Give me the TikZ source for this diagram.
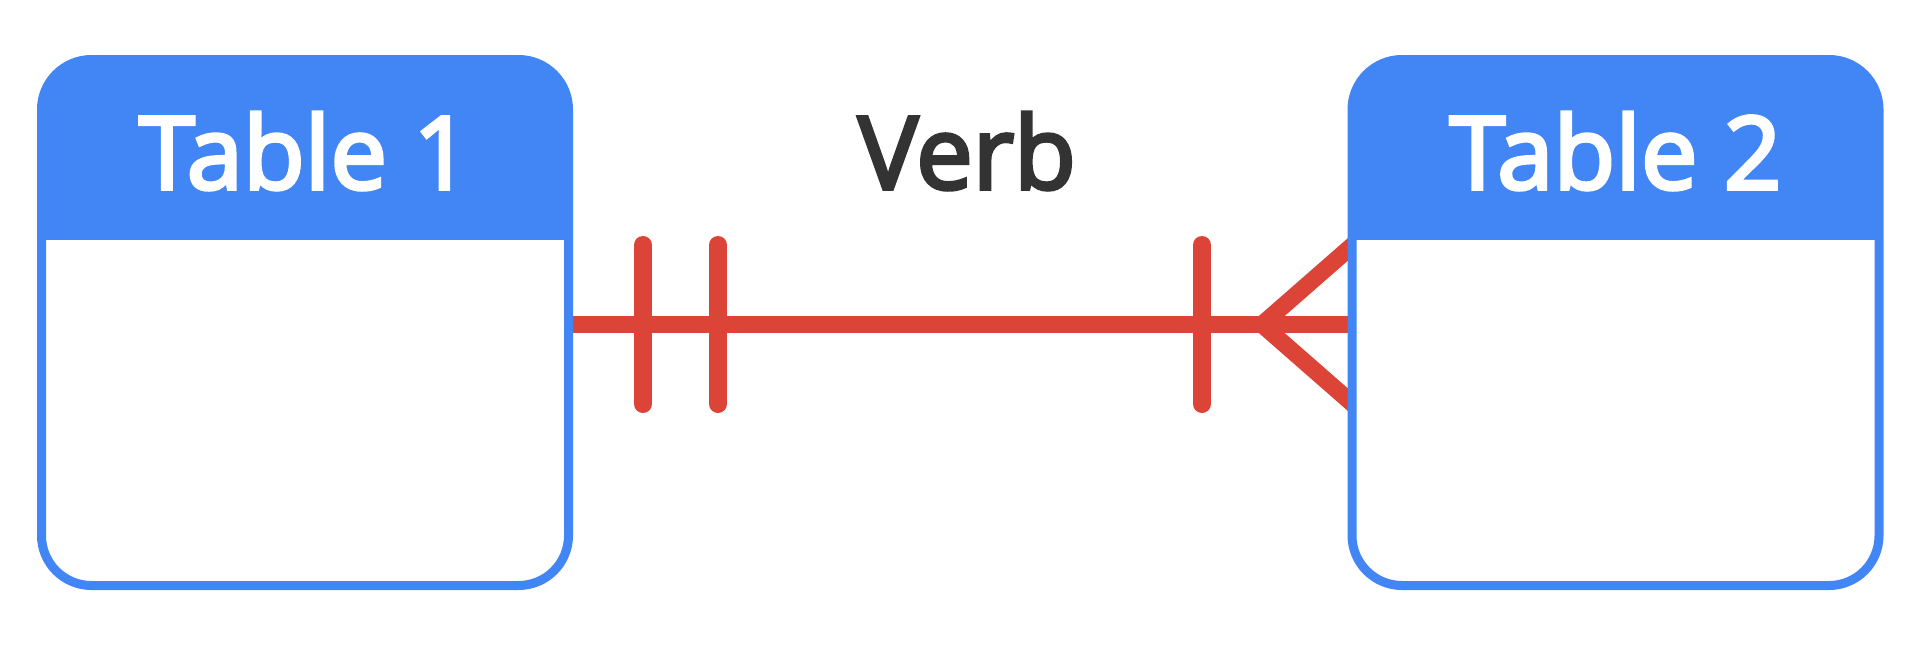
\documentclass[tikz,border=0pt]{standalone}
\usepackage{fontspec}
\setmainfont{Open Sans}[FakeBold=3.5]
\usetikzlibrary{backgrounds}
\definecolor{gblue}{HTML}{4285F4}
\definecolor{gred}{HTML}{DB4437}
\definecolor{gtext}{HTML}{333333}
\tikzset{
  tablebox/.style={draw=gblue, line width=9pt, rounded corners=50pt,
    minimum width=527pt, minimum height=526pt, inner sep=0pt,
    path picture={\fill[gblue, sharp corners] (path picture bounding box.north west) rectangle
      ([yshift=-180pt]path picture bounding box.north east);}},
  headtext/.style={anchor=base, text=white, font=\fontsize{101}{110}\selectfont, inner sep=0pt},
  verbtext/.style={anchor=base, text=gtext, font=\fontsize{101}{110}\selectfont, inner sep=0pt},
  relline/.style={draw=gred, line width=17pt},
  tickline/.style={draw=gred, line width=18pt, line cap=round},
  footline/.style={draw=gred, line width=17pt, line cap=round},
}
\begin{document}
\begin{tikzpicture}[x=1pt,y=-1pt]
\useasboundingbox (0,0) rectangle (1921,645);
\node[tablebox] (t1) at (305,322.5) {};
\node[tablebox] (t2) at (1615.5,322.5) {};
\node[headtext] (h1) at (305,189) {Table 1};
\node[headtext] (h2) at (1615.5,189) {Table 2};
\node[verbtext] (verb) at (967,189) {Verb};
\coordinate (a1) at (643,245); \coordinate (b1) at (643,404);
\coordinate (a2) at (718,245); \coordinate (b2) at (718,404);
\coordinate (a3) at (1202,245); \coordinate (b3) at (1202,404);
\coordinate (apex) at (1262,324.5);
\coordinate (ftop) at (1362,237);
\coordinate (fbot) at (1362,412);
\begin{scope}[on background layer]
\draw[relline] ([yshift=-2pt]t1.east) -- ([yshift=-2pt]t2.west);
\draw[tickline] (a1) -- (b1);
\draw[tickline] (a2) -- (b2);
\draw[tickline] (a3) -- (b3);
\begin{scope}
\clip (0,0) rectangle (1352,645);
\draw[footline] (ftop) -- (apex) -- (fbot);
\end{scope}
\end{scope}
\end{tikzpicture}
\end{document}
